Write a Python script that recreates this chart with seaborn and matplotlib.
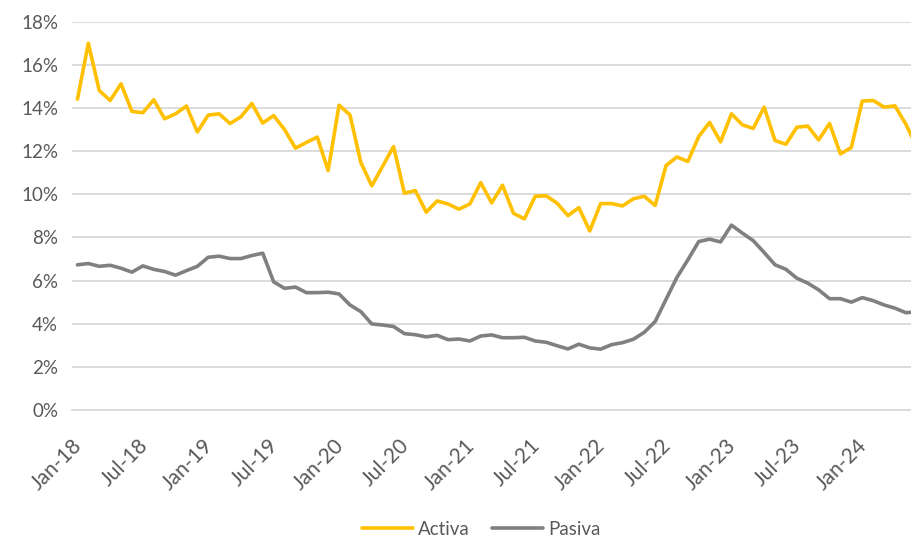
import numpy as np
import pandas as pd
import matplotlib
matplotlib.use("Agg")
import matplotlib.pyplot as plt
import seaborn as sns

# ------------------------------------------------------------
# DATA  (monthly rates, %, Jan-18 onwards)
# ------------------------------------------------------------
activa = [14.41, 17.0, 14.81, 14.35, 15.12, 13.84, 13.78, 14.38, 13.5, 13.73,
          14.09, 12.89, 13.67, 13.73, 13.28, 13.59, 14.21, 13.3, 13.65, 13.0,
          12.14, 12.4, 12.65, 11.1, 14.13, 13.68, 11.47, 10.39, 11.3, 12.21,
          10.05, 10.17, 9.17, 9.69, 9.55, 9.31, 9.55, 10.54, 9.6, 10.42,
          9.12, 8.86, 9.91, 9.93, 9.59, 9.01, 9.38, 8.3, 9.57, 9.57,
          9.46, 9.79, 9.91, 9.48, 11.33, 11.73, 11.52, 12.68, 13.33, 12.43,
          13.73, 13.22, 13.05, 14.04, 12.49, 12.32, 13.11, 13.16, 12.52, 13.28,
          11.87, 12.17, 14.32, 14.35, 14.04, 14.1, 13.25, 12.2]
pasiva = [6.73, 6.79, 6.66, 6.71, 6.57, 6.39, 6.68, 6.52, 6.42, 6.25,
          6.46, 6.66, 7.08, 7.13, 7.02, 7.02, 7.16, 7.27, 5.94, 5.64,
          5.7, 5.44, 5.44, 5.46, 5.38, 4.87, 4.56, 3.99, 3.94, 3.87,
          3.54, 3.49, 3.39, 3.46, 3.26, 3.29, 3.2, 3.43, 3.48, 3.35,
          3.35, 3.37, 3.2, 3.14, 2.98, 2.83, 3.05, 2.88, 2.82, 3.03,
          3.12, 3.28, 3.6, 4.1, 5.13, 6.15, 6.96, 7.81, 7.92, 7.79,
          8.57, 8.2, 7.85, 7.3, 6.73, 6.52, 6.11, 5.88, 5.57, 5.16,
          5.16, 5.0, 5.21, 5.07, 4.87, 4.72, 4.51, 4.55]
tick_labels = ["Jan-18", "Jul-18", "Jan-19", "Jul-19", "Jan-20", "Jul-20", "Jan-21",
               "Jul-21", "Jan-22", "Jul-22", "Jan-23", "Jul-23", "Jan-24"]
series = ["Activa", "Pasiva"]

GOLD = "#FFC000"; GREY = "#808080"; GRID = "#D9D9D9"; TXT = "#595959"

# ------------------------------------------------------------
# SETUP
# ------------------------------------------------------------
sns.set_style("white")
plt.rcParams["font.family"] = ["Lato", "DejaVu Sans"]

n = len(activa)
months = pd.period_range("2018-01", periods=n, freq="M")
df = pd.DataFrame({"month": months.astype(str),
                   "Activa": np.array(activa) / 100,
                   "Pasiva": np.array(pasiva) / 100})
df["pos"] = np.arange(n) + 0.5   # points sit between tick marks
long = df.melt(id_vars=["month", "pos"], value_vars=series,
               var_name="serie", value_name="tasa")

fig = plt.figure(figsize=(9.12, 5.36), dpi=100)
ax = fig.add_axes([72 / 912, 1 - 410 / 536, 1 - 72 / 912, (410 - 21.7) / 536])

sns.lineplot(data=long, x="pos", y="tasa", hue="serie", hue_order=series,
             palette=[GOLD, GREY], linewidth=2.6, ax=ax, legend=False)

# axes
ax.set_xlim(0, (912 - 72) / 10.9)
ax.set_ylim(0, 0.18)
ax.set_yticks(np.arange(0, 0.181, 0.02))
ax.yaxis.set_major_formatter(plt.FuncFormatter(lambda v, p: f"{v*100:.0f}%"))
ax.set_xticks(np.arange(0, 6 * len(tick_labels), 6))
ax.set_xticklabels(tick_labels, rotation=45, ha="right", rotation_mode="anchor")
ax.set_xlabel(""); ax.set_ylabel("")
ax.grid(axis="y", color=GRID, linewidth=1.3)
ax.set_axisbelow(True)
for s in ["top", "right", "left"]:
    ax.spines[s].set_visible(False)
ax.spines["bottom"].set_color(GRID)
ax.spines["bottom"].set_linewidth(1.3)
ax.tick_params(axis="x", length=6, width=1.3, color=GRID, colors=TXT,
               labelsize=15, pad=12, direction="out")
ax.tick_params(axis="y", length=0, colors=TXT, labelsize=13.5, pad=10)

# legend
handles = [plt.Line2D([], [], color=c, lw=2.6) for c in [GOLD, GREY]]
leg = fig.legend(handles, series, loc="center", bbox_to_anchor=(0.528, 0.013),
                 ncol=2, frameon=False, fontsize=13.5, handlelength=2.7,
                 handletextpad=0.3, columnspacing=1.2)
for t in leg.get_texts():
    t.set_color(TXT)

fig.savefig("out.png", dpi=100)
